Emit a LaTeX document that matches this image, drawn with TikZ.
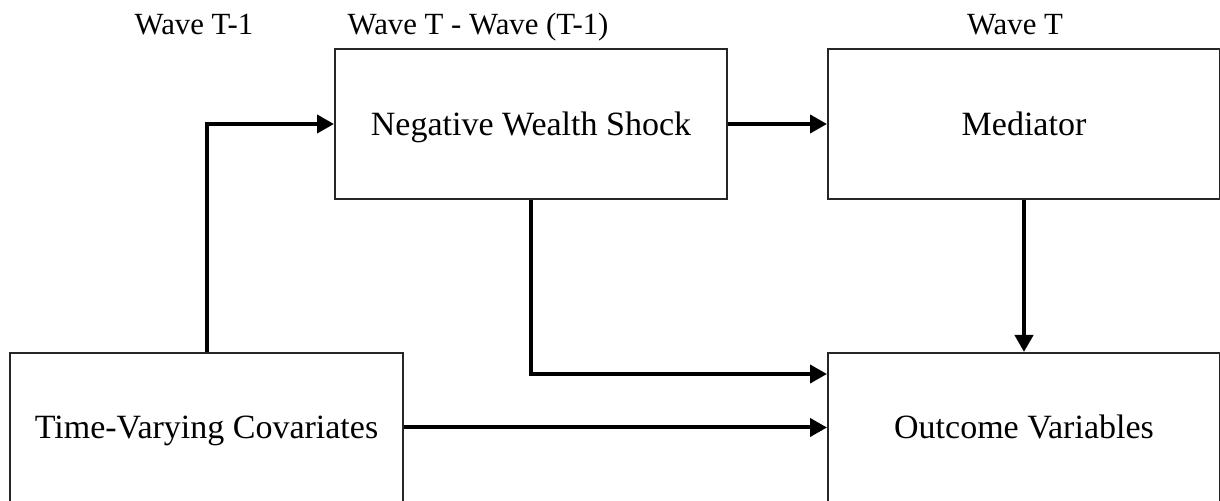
\documentclass[tikz,border=0pt]{standalone}
\usepackage{fontspec}
\setmainfont{Liberation Serif}
\usetikzlibrary{calc}
\usetikzlibrary{arrows.meta}

\tikzset{
  stage/.style={draw=black!85, line width=1pt, inner sep=0pt,
      minimum width=196pt, minimum height=75pt,
      text height=11.2pt, text depth=0pt,
      font=\fontsize{17}{20}\selectfont},
  wave/.style={anchor=base, inner sep=0pt, font=\fontsize{15.4}{18}\selectfont},
  flow/.style={line width=2pt, -{Triangle[length=8.5pt,width=9pt]}}
}

\begin{document}
\begin{tikzpicture}[x=0.5pt,y=0.5pt]
\useasboundingbox (0,0) rectangle (1220,-501);
\clip (0,0) rectangle (1220,-501);

% wave headings
\node[wave] (hdprev) at (194,-35) {Wave T-1};
\node[wave] (hddiff) at (478,-35) {Wave T - Wave (T-1)};
\node[wave] (hdcurr) at (1015,-35) {Wave T};

% boxes
\node[stage] (shock) at (531,-124) {Negative Wealth Shock};
\node[stage] (med) at (1024,-124) {Mediator};
\node[stage, minimum width=196.5pt, minimum height=74.5pt] (covar) at (206.5,-427.5) {Time-Varying Covariates};
\node[stage, minimum height=74.5pt] (outc) at (1024,-427.5) {Outcome Variables};

\coordinate (outin) at ($(outc.west)+(0,53.5)$); % upper entry

\draw[flow] (covar.north) |- (shock.west);
\draw[flow] (shock.east) -- (med.west);
\draw[flow] (med.south) -- (outc.north);
\draw[flow] (shock.south) |- (outin);
\draw[flow] (covar.east) -- (outc.west);
\end{tikzpicture}
\end{document}
